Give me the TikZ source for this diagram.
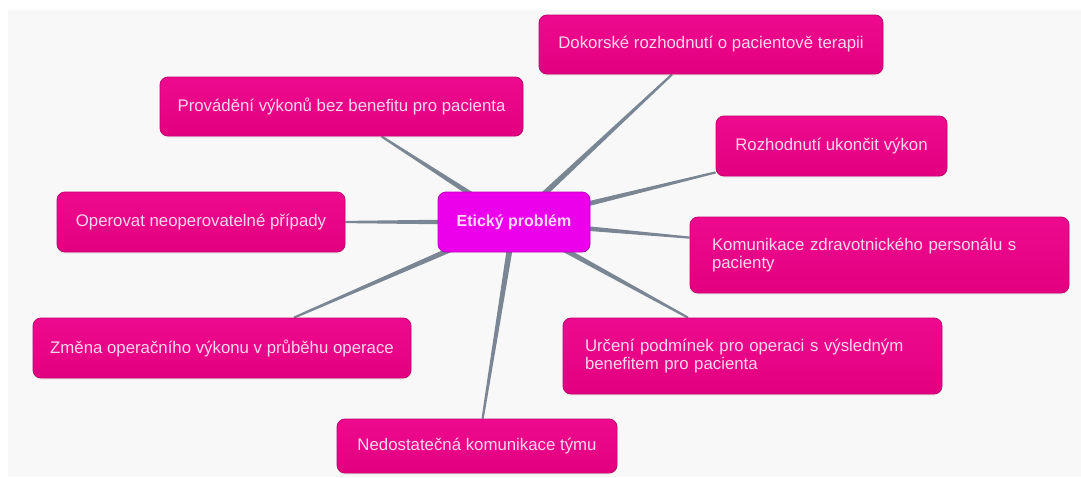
\documentclass[tikz,border=0pt]{standalone}
\usepackage{fontspec}
\setmainfont{Liberation Sans}
\usepackage{tikz}
\usetikzlibrary{calc,shadows}
\definecolor{pageink}{RGB}{248,248,249}
\definecolor{pinkfill}{RGB}{238,10,142}
\definecolor{pinkdark}{RGB}{226,0,128}
\definecolor{pinkedge}{RGB}{196,0,110}
\definecolor{pinktext}{RGB}{252,214,236}
\definecolor{hubfill}{RGB}{236,0,236}
\definecolor{hubedge}{RGB}{184,0,184}
\definecolor{hubtext}{RGB}{255,214,255}
\definecolor{linkgray}{RGB}{122,134,148}

\pgfdeclarelayer{back}
\pgfdeclarelayer{links}
\pgfsetlayers{back,links,main}

\tikzset{
  topic/.style={
    rectangle, rounded corners=8pt,
    draw=pinkedge, line width=0.8pt,
    top color=pinkfill, bottom color=pinkdark,
    text=pinktext, font=\fontsize{16.8}{18}\selectfont,
    inner sep=0pt, align=center,
    drop shadow={opacity=0.12, shadow xshift=0pt, shadow yshift=-1.5pt}},
  topic2/.style={topic, align=left, text width=335pt},
  hub/.style={
    rectangle, rounded corners=8pt,
    draw=hubedge, line width=0.8pt,
    fill=hubfill, text=hubtext,
    font=\fontsize{16}{18}\selectfont\bfseries,
    inner sep=0pt, minimum width=152pt, minimum height=60pt},
  link/.style={fill=linkgray}
}

% tapered spoke from the hub to a topic
\newcommand{\mapspoke}[2]{%
  \fill[link] ($(#1)!3.2pt!90:(#2)$) -- ($(#2)!1.1pt!-90:(#1)$)
    -- ($(#2)!1.1pt!90:(#1)$) -- ($(#1)!3.2pt!-90:(#2)$) -- cycle;}

\begin{document}
\begin{tikzpicture}[x=1pt,y=-1pt]
    % page
    \useasboundingbox (0,0) rectangle (1081,477);
    \begin{pgfonlayer}{back}
      \fill[white] (0,0) rectangle (1081,477);
      \fill[pageink] (8,10) rectangle (1081,477);
    \end{pgfonlayer}

    % central topic
    \node[hub] (hub) at (514,222) {Etický problém};

    % topics
    \node[topic, minimum width=344pt, minimum height=59pt] (dok) at (711,44.5)
        {Dokorské rozhodnutí o pacientově terapii};
    \node[topic, minimum width=363pt, minimum height=59pt] (prov) at (341.5,106.5)
        {Provádění výkonů bez benefitu pro pacienta};
    \node[topic, minimum width=231pt, minimum height=60pt] (roz) at (831.5,146)
        {Rozhodnutí ukončit výkon};
    \node[topic, minimum width=288pt, minimum height=60pt] (ope) at (201,222)
        {Operovat neoperovatelné případy};
    \node[topic2, minimum width=379pt, minimum height=76pt] (kom) at (879.5,255)
        {Komunikace zdravotnického personálu s\\pacienty};
    \node[topic, minimum width=378pt, minimum height=60pt] (zme) at (222,348)
        {Změna operačního výkonu v průběhu operace};
    \node[topic2, minimum width=379pt, minimum height=76pt] (urc) at (752.5,356)
        {Určení podmínek pro operaci s výsledným\\benefitem pro pacienta};
    \node[topic, minimum width=280pt, minimum height=54pt] (ned) at (477,446)
        {Nedostatečná komunikace týmu};

    % spoke ends
    \coordinate (dokend) at ($(dok.south west)!.387!(dok.south east)$);
    \coordinate (provend) at ($(prov.south west)!.61!(prov.south east)$);
    \coordinate (rozend) at ($(roz.south west)+(0,-4)$);
    \coordinate (opeend) at (ope.east);
    \coordinate (komend) at ($(kom.north west)+(0,21)$);
    \coordinate (zmeend) at ($(zme.north west)!.69!(zme.north east)$);
    \coordinate (urcend) at ($(urc.north west)!.33!(urc.north east)$);
    \coordinate (nedend) at ($(ned.north west)!.52!(ned.north east)$);

    % spokes
    \begin{pgfonlayer}{links}
      \mapspoke{hub.center}{dokend}
      \mapspoke{hub.center}{provend}
      \mapspoke{hub.center}{rozend}
      \mapspoke{hub.center}{opeend}
      \mapspoke{hub.center}{komend}
      \mapspoke{hub.center}{zmeend}
      \mapspoke{hub.center}{urcend}
      \mapspoke{hub.center}{nedend}
    \end{pgfonlayer}
\end{tikzpicture}
\end{document}
